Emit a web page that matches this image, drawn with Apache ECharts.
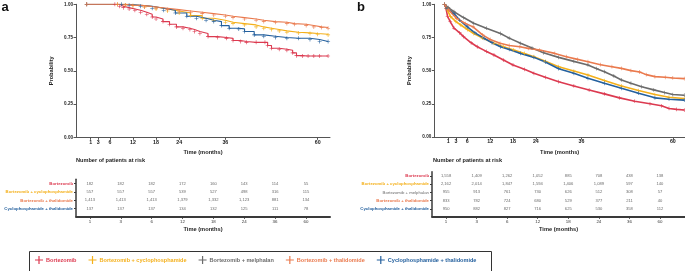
<!DOCTYPE html>
<html>
<head>
<meta charset="UTF-8">
<title>Survival by regimen</title>
<script src="https://cdn.jsdelivr.net/npm/echarts@6/dist/echarts.min.js"></script>
<style>
  html, body { margin: 0; padding: 0; background: #fff; }
  #chart { width: 685px; height: 271px; }
</style>
</head>
<body>
<div id="chart"></div>
<script>
// tick positions (months) and risk-table columns
const timeTicks = [1, 3, 6, 12, 18, 24, 36, 60];
const probTicks = [0, 0.25, 0.5, 0.75, 1];

const names = ['Bortezomib', 'Bortezomib + cyclophosphamide', 'Bortezomib + melphalan',
               'Bortezomib + thalidomide', 'Cyclophosphamide + thalidomide'];
const colors = ['#dc3a50', '#f4b01b', '#6b6b6b', '#ea7a4e', '#24609e'];

// panel a curves: [month, probability]
const aBort = [[0,1],[7.3,1],[8.5,0.985],[9.5,0.975],[11,0.965],[12.5,0.955],[14,0.94],[15.6,0.925],[17,0.905],[18,0.89],[19.8,0.87],[21.5,0.85],[23.3,0.83],[25,0.82],[26.8,0.81],[28,0.795],[29.4,0.78],[31.5,0.757],[34,0.75],[36.3,0.744],[38,0.728],[40,0.72],[41.5,0.714],[44,0.714],[46.3,0.714],[47,0.69],[48,0.669],[50,0.662],[52,0.655],[53.5,0.635],[54.5,0.614],[56,0.611],[57.5,0.611],[59,0.611],[60.5,0.611],[62.7,0.611]];
const aCyc = [[0,1],[8,1],[10,0.995],[12,0.99],[15,0.98],[18,0.965],[21,0.95],[24,0.935],[27,0.915],[30,0.895],[33,0.88],[36,0.865],[38,0.855],[41,0.845],[44,0.83],[46,0.82],[48,0.81],[50,0.8],[52,0.79],[55,0.785],[58,0.78],[60,0.775],[62.7,0.77]];
const aThal = [[0,1],[8,1],[10,0.995],[12,0.99],[15,0.98],[18,0.97],[21,0.96],[24,0.95],[27,0.94],[30,0.93],[33,0.92],[36,0.91],[38,0.9],[41,0.89],[44,0.88],[46,0.87],[49,0.865],[52,0.855],[54,0.85],[57,0.84],[59,0.83],[61,0.825],[62.7,0.82]];
const aCT = [[0,1],[9,1],[11,0.993],[14,0.985],[17,0.97],[20,0.955],[23,0.935],[26,0.91],[28.5,0.895],[31,0.88],[33,0.87],[35,0.84],[37,0.82],[39.5,0.815],[41,0.795],[43.5,0.77],[46,0.76],[49,0.75],[52,0.745],[55,0.745],[58,0.735],[60.5,0.72],[62.7,0.72]];

// panel b curves
const bBort = [[0,1],[0.4,0.97],[0.8,0.91],[1.5,0.87],[2.5,0.82],[4,0.785],[5,0.756],[7,0.71],[8.6,0.68],[11,0.645],[13,0.618],[15.5,0.58],[18,0.543],[21,0.51],[23.5,0.48],[26.5,0.45],[30,0.417],[34,0.385],[38,0.354],[42,0.325],[46,0.295],[50,0.27],[54,0.25],[57,0.235],[59,0.215],[61,0.208],[63,0.203]];
const bCyc = [[0,1],[0.5,0.97],[1.6,0.907],[3,0.87],[4.3,0.844],[6,0.81],[7.7,0.78],[10,0.745],[13,0.706],[15.5,0.68],[18.2,0.656],[21,0.63],[23.5,0.605],[26.5,0.57],[30,0.53],[34,0.497],[37.7,0.467],[42,0.425],[46.5,0.385],[51,0.35],[55.3,0.32],[59,0.3],[63,0.29]];
const bMel = [[0,1],[1,0.975],[2.5,0.944],[5,0.9],[7.7,0.857],[11,0.82],[14.7,0.78],[17,0.745],[20,0.706],[23,0.67],[26,0.635],[30,0.6],[34,0.57],[37.7,0.543],[40,0.515],[42,0.492],[44.5,0.46],[46.5,0.43],[49,0.405],[51.8,0.379],[55,0.355],[57.8,0.335],[60,0.32],[63,0.315]];
const bThal = [[0,1],[1,0.96],[3.2,0.894],[5.5,0.855],[7.5,0.83],[10,0.77],[12,0.735],[14.6,0.706],[17,0.69],[19.8,0.68],[22,0.668],[25,0.655],[29,0.63],[32,0.605],[35,0.585],[37.7,0.567],[41,0.545],[44,0.53],[46.5,0.517],[49,0.5],[51.3,0.49],[53,0.47],[55.3,0.455],[58,0.45],[60,0.445],[63,0.44]];
const bCT = [[0,1],[0.6,0.97],[2.5,0.93],[4,0.88],[6,0.83],[8,0.785],[10.4,0.744],[12.5,0.71],[14.7,0.68],[17,0.66],[20,0.63],[23.5,0.6],[26.5,0.565],[30,0.515],[34,0.48],[37.7,0.442],[42,0.405],[46.5,0.367],[51,0.33],[55.3,0.295],[59,0.285],[63,0.278]];

// numbers at risk, one row per regimen
const riskABort = [182, 182, 182, 172, 160, 143, 114, 55];
const riskACyc = [557, 557, 557, 539, 527, 498, 316, 115];
const riskAThal = [1413, 1413, 1413, 1379, 1332, 1123, 881, 134];
const riskACT = [137, 137, 137, 134, 132, 125, 111, 78];

const riskBBort = [1558, 1409, 1262, 1052, 885, 708, 438, 138];
const riskBCyc = [2162, 2014, 1847, 1594, 1406, 1089, 597, 140];
const riskBMel = [955, 913, 761, 730, 626, 512, 308, 57];
const riskBThal = [833, 782, 724, 680, 529, 377, 211, 40];
const riskBCT = [950, 882, 827, 716, 625, 530, 358, 112];

const FONT = 'Liberation Sans, Arial, sans-serif';
const plus = 'path://M0,3.4h8v1.2h-8z M3.4,0h1.2v8h-1.2z';

const chart = echarts.init(document.getElementById('chart'), null, { renderer: 'canvas' });

function kmX(grid, min, max) {
  return {
    gridIndex: grid, type: 'value', min: min, max: max,
    name: 'Time (months)', nameLocation: 'middle', nameGap: 12,
    nameTextStyle: { fontFamily: FONT, fontSize: 5.7, fontWeight: 'bold', color: '#222' },
    axisLine: { show: true, onZero: false, lineStyle: { color: '#555', width: 1 } },
    axisTick: { show: true, length: 2.5, customValues: timeTicks, lineStyle: { color: '#555' } },
    axisLabel: { customValues: timeTicks, margin: 2.5, fontFamily: FONT, fontSize: 5.3, fontWeight: 'bold', color: '#222' },
    splitLine: { show: false }
  };
}
function kmY(grid) {
  return {
    gridIndex: grid, type: 'value', min: 0, max: 1, interval: 0.25,
    name: 'Probability', nameLocation: 'middle', nameGap: 22,
    nameTextStyle: { fontFamily: FONT, fontSize: 5.6, fontWeight: 'bold', color: '#222' },
    axisLine: { show: true, onZero: false, lineStyle: { color: '#555', width: 1 } },
    axisTick: { show: true, length: 2.5, lineStyle: { color: '#555' } },
    axisLabel: { margin: 3, fontFamily: FONT, fontSize: 4.6, fontWeight: 'bold', color: '#222',
                 formatter: v => v.toFixed(2) },
    splitLine: { show: false }
  };
}
function tableX(grid, min, max) {
  return {
    gridIndex: grid, type: 'value', min: min, max: max,
    name: 'Time (months)', nameLocation: 'middle', nameGap: 10,
    nameTextStyle: { fontFamily: FONT, fontSize: 5.7, fontWeight: 'bold', color: '#222' },
    axisLine: { show: true, onZero: false, lineStyle: { color: '#3a3a3a', width: 2 } },
    axisTick: { show: true, length: 2.5, customValues: [1,2,3,4,5,6,7,8], lineStyle: { color: '#3a3a3a' } },
    axisLabel: { customValues: [1,2,3,4,5,6,7,8], margin: 3, fontFamily: FONT, fontSize: 4.4, color: '#333',
                 formatter: v => String(timeTicks[Math.round(v) - 1]) },
    splitLine: { show: false }
  };
}
function tableY(grid, rows) {
  const rich = {};
  rows.forEach((r, i) => {
    rich['r' + i] = { color: colors[r], fontFamily: FONT, fontSize: 4.3,
                      fontWeight: r === 2 ? 'normal' : 'bold' };
  });
  const n = rows.length;
  return {
    gridIndex: grid, type: 'value', min: -0.9, max: n - 0.5,
    axisLine: { show: true, onZero: false, lineStyle: { color: '#3a3a3a', width: 1.5 } },
    axisTick: { show: true, length: 2, customValues: rows.map((_, i) => i), lineStyle: { color: '#3a3a3a' } },
    axisLabel: { customValues: rows.map((_, i) => i), margin: 3,
                 formatter: v => { const i = n - 1 - Math.round(v); return '{r' + i + '|' + names[rows[i]] + '}'; },
                 rich: rich },
    splitLine: { show: false }
  };
}

function km(idx, ci, data, stepped) {
  return {
    type: 'line', name: names[ci], xAxisIndex: idx, yAxisIndex: idx,
    data: data, step: stepped ? 'end' : false,
    symbol: plus, symbolSize: stepped ? 4 : 3.8, showSymbol: true,
    lineStyle: { color: colors[ci], width: stepped ? 1.1 : 1.6 },
    itemStyle: { color: colors[ci] },
    silent: true, z: 3
  };
}

function riskSeries(idx, tableRows) {
  const n = tableRows.length;
  const data = [];
  tableRows.forEach((row, r) => {
    row.forEach((v, c) => data.push([c + 1, n - 1 - r, v.toLocaleString('en-US')]));
  });
  return {
    type: 'scatter', xAxisIndex: idx, yAxisIndex: idx, data: data,
    symbolSize: 1, itemStyle: { color: 'rgba(0,0,0,0)' }, silent: true, z: 5,
    label: { show: true, position: 'inside', formatter: p => p.value[2],
             fontFamily: FONT, fontSize: 4.1, color: '#444' }
  };
}

const option = {
  backgroundColor: '#fff',
  animation: false,
  textStyle: { fontFamily: FONT },
  grid: [
    { left: 76, top: 4.3, width: 254, height: 133 },
    { left: 434.3, top: 4.3, width: 251, height: 132.7 },
    { left: 76, top: 179.3, width: 254, height: 37 },
    { left: 432, top: 171.7, width: 253, height: 44.6 }
  ],
  xAxis: [kmX(0, -2.8, 63.2), kmX(1, -2.68, 63.2), tableX(2, 0.55, 8.78), tableX(3, 0.54, 8.82)],
  yAxis: [kmY(0), kmY(1), tableY(2, [0, 1, 3, 4]), tableY(3, [0, 1, 2, 3, 4])],
  legend: {
    left: 35, top: 256, itemWidth: 8, itemHeight: 8, itemGap: 12, padding: 0,
    icon: plus, selectedMode: false,
    data: names.map((n, i) => ({ name: n, textStyle: { color: colors[i] } })),
    textStyle: { fontFamily: FONT, fontSize: 5.55, fontWeight: 'bold', padding: [0, 0, 0, -2] }
  },
  graphic: [
    { type: 'text', left: 1.5, top: 1, style: { text: 'a', font: 'bold 13px ' + FONT, fill: '#111' } },
    { type: 'text', left: 357, top: 1, style: { text: 'b', font: 'bold 13px ' + FONT, fill: '#111' } },
    { type: 'text', left: 76, top: 157, style: { text: 'Number of patients at risk', font: 'bold 5.6px ' + FONT, fill: '#222' } },
    { type: 'text', left: 433, top: 157.5, style: { text: 'Number of patients at risk', font: 'bold 5.6px ' + FONT, fill: '#222' } },
    { type: 'rect', left: 27, top: 249, shape: { width: 462, height: 21 },
      style: { fill: 'none', stroke: '#333', lineWidth: 1 } }
  ],
  series: [
    km(0, 0, aBort, true), km(0, 1, aCyc, true), km(0, 4, aCT, true), km(0, 3, aThal, true),
    km(1, 0, bBort, false), km(1, 1, bCyc, false), km(1, 4, bCT, false), km(1, 2, bMel, false), km(1, 3, bThal, false),
    riskSeries(2, [riskABort, riskACyc, riskAThal, riskACT]),
    riskSeries(3, [riskBBort, riskBCyc, riskBMel, riskBThal, riskBCT])
  ]
};
chart.setOption(option);
</script>
</body>
</html>
